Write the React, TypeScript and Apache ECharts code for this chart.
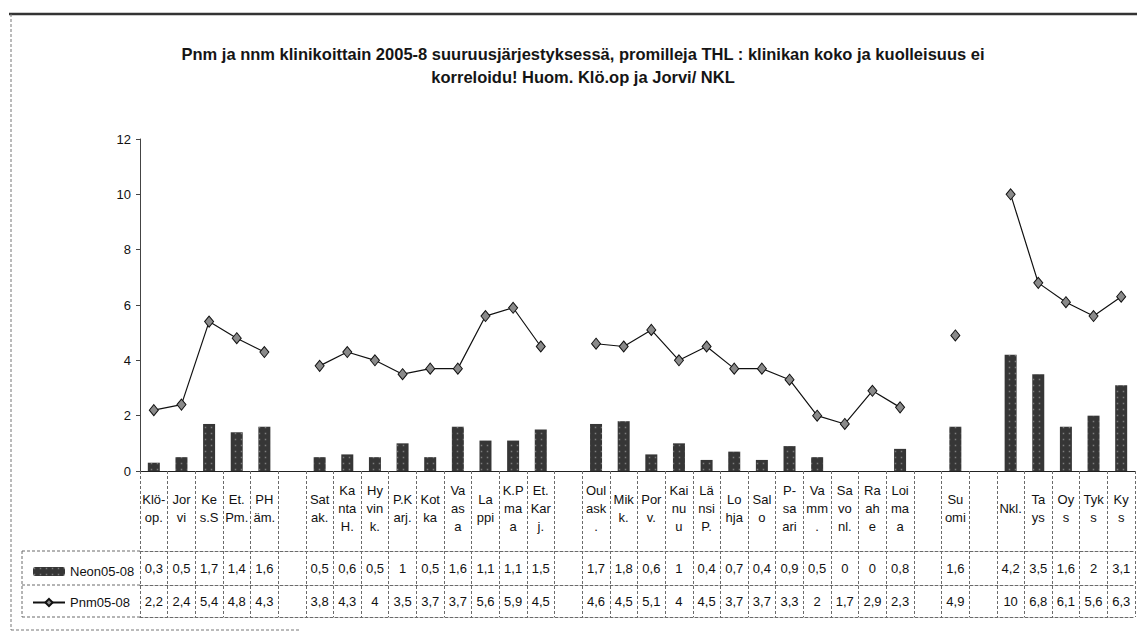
import React, { useEffect, useRef } from "react";
import * as echarts from "echarts";

const FONT = "'Liberation Sans', Arial, Helvetica, sans-serif";

const titleText =
  "Pnm ja nnm klinikoittain 2005-8 suuruusjärjestyksessä, promilleja THL : klinikan koko ja kuolleisuus ei\nkorreloidu! Huom. Klö.op ja Jorvi/ NKL";

const categories = [
  "Klö-\nop.", "Jor\nvi", "Ke\ns.S", "Et.\nPm.", "PH\näm.", "",
  "Sat\nak.", "Ka\nnta\nH.", "Hy\nvin\nk.", "P.K\narj.", "Kot\nka", "Va\nas\na", "La\nppi", "K.P\nma\na", "Et.\nKar\nj.", "",
  "Oul\nask\n.", "Mik\nk.", "Por\nv.", "Kai\nnu\nu", "Lä\nnsi\nP.", "Lo\nhja", "Sal\no", "P-\nsa\nari", "Va\nmm\n.", "Sa\nvo\nnl.", "Ra\nah\ne", "Loi\nma\na", "",
  "Su\nomi", "",
  "Nkl.", "Ta\nys", "Oy\ns", "Tyk\ns", "Ky\ns",
];

const neon = [
  0.3, 0.5, 1.7, 1.4, 1.6, null,
  0.5, 0.6, 0.5, 1, 0.5, 1.6, 1.1, 1.1, 1.5, null,
  1.7, 1.8, 0.6, 1, 0.4, 0.7, 0.4, 0.9, 0.5, 0, 0, 0.8, null,
  1.6, null,
  4.2, 3.5, 1.6, 2, 3.1,
];

const pnm = [
  2.2, 2.4, 5.4, 4.8, 4.3, null,
  3.8, 4.3, 4, 3.5, 3.7, 3.7, 5.6, 5.9, 4.5, null,
  4.6, 4.5, 5.1, 4, 4.5, 3.7, 3.7, 3.3, 2, 1.7, 2.9, 2.3, null,
  4.9, null,
  10, 6.8, 6.1, 5.6, 6.3,
];

const seriesNames = ["Neon05-08", "Pnm05-08"];

const fmt = (v: number | null) => (v == null ? "" : String(v).replace(".", ","));

export default function App() {
  const ref = useRef<HTMLDivElement>(null);
  useEffect(() => {
    if (!ref.current) return;
    const chart = echarts.init(ref.current, null, { renderer: "svg" });
    const dash = { color: "#6a6a6a", width: 1, type: [3, 2] as any };
    const tableAxis = (offset: number, margin: number, values: (number | null)[] | null) => ({
      type: "category",
      data: categories,
      position: "bottom",
      offset,
      axisLine: { show: true, lineStyle: dash },
      axisTick: { show: false },
      axisLabel: values
        ? {
            show: true,
            interval: 0,
            margin,
            verticalAlign: "middle",
            fontSize: 13,
            fontFamily: FONT,
            color: "#111",
            formatter: (_v: string, i: number) => fmt(values[i]),
          }
        : { show: false },
      splitLine: { show: false },
    });
    chart.setOption({
      animation: false,
      backgroundColor: "#fff",
      title: {
        text: titleText,
        left: 578,
        top: 37,
        textAlign: "center",
        textStyle: {
          fontFamily: FONT,
          fontSize: 16.5,
          fontWeight: "bold",
          lineHeight: 23,
          color: "#151515",
        },
      },
      legend: {
        data: seriesNames,
        orient: "vertical",
        left: 27,
        top: 560,
        itemGap: 18,
        itemWidth: 32,
        itemHeight: 9,
        textStyle: { fontFamily: FONT, fontSize: 13, color: "#111" },
      },
      grid: { left: 140, right: 2, top: 139, bottom: 161 },
      xAxis: [
        {
          type: "category",
          data: categories,
          position: "bottom",
          axisLine: { show: true, lineStyle: { color: "#222", width: 1 } },
          axisTick: { show: true, length: 146, lineStyle: dash },
          axisLabel: {
            interval: 0,
            margin: 37,
            verticalAlign: "middle",
            fontSize: 13,
            lineHeight: 18,
            fontFamily: FONT,
            color: "#111",
          },
          splitLine: { show: false },
        },
        tableAxis(80, 17, neon),
        tableAxis(114, 16, pnm),
        tableAxis(146, 0, null),
      ],
      yAxis: {
        type: "value",
        min: 0,
        max: 12,
        interval: 2,
        axisLine: { show: true, lineStyle: { color: "#444", width: 1 } },
        axisTick: { show: true, length: 4, lineStyle: { color: "#444" } },
        axisLabel: { fontSize: 13, fontFamily: FONT, color: "#111", margin: 9 },
        splitLine: { show: false },
      },
      series: [
        {
          name: seriesNames[0],
          type: "bar",
          data: neon,
          barWidth: 12,
          itemStyle: {
            color: "#363636",
            decal: {
              symbol: "rect",
              symbolSize: 0.5,
              color: "rgba(255,255,255,0.35)",
              dashArrayX: 3,
              dashArrayY: 3,
            },
          },
        },
        {
          name: seriesNames[1],
          type: "line",
          data: pnm,
          connectNulls: false,
          symbol: "diamond",
          symbolSize: [9, 11],
          lineStyle: { color: "#111", width: 1.2 },
          itemStyle: { color: "#8a8a8a", borderColor: "#111", borderWidth: 1 },
        },
      ],
      graphic: [
        { type: "line", shape: { x1: 9, y1: 14, x2: 1137, y2: 14 }, style: { stroke: "#333", lineWidth: 2.5 } },
        { type: "line", shape: { x1: 11, y1: 14, x2: 11, y2: 630 }, style: { stroke: "#777", lineWidth: 1, lineDash: [3, 2] } },
        { type: "line", shape: { x1: 11, y1: 630, x2: 300, y2: 630 }, style: { stroke: "#777", lineWidth: 1, lineDash: [3, 2] } },
        { type: "line", shape: { x1: 22, y1: 551, x2: 140, y2: 551 }, style: { stroke: "#6a6a6a", lineWidth: 1, lineDash: [3, 2] } },
        { type: "line", shape: { x1: 22, y1: 585, x2: 140, y2: 585 }, style: { stroke: "#6a6a6a", lineWidth: 1, lineDash: [3, 2] } },
        { type: "line", shape: { x1: 22, y1: 617, x2: 140, y2: 617 }, style: { stroke: "#6a6a6a", lineWidth: 1, lineDash: [3, 2] } },
        { type: "line", shape: { x1: 22, y1: 551, x2: 22, y2: 617 }, style: { stroke: "#6a6a6a", lineWidth: 1, lineDash: [3, 2] } },
      ],
    });
    return () => chart.dispose();
  }, []);
  return (
    <div
      ref={ref}
      style={{ position: "absolute", left: 0, top: 0, width: 1137, height: 632 }}
    />
  );
}
